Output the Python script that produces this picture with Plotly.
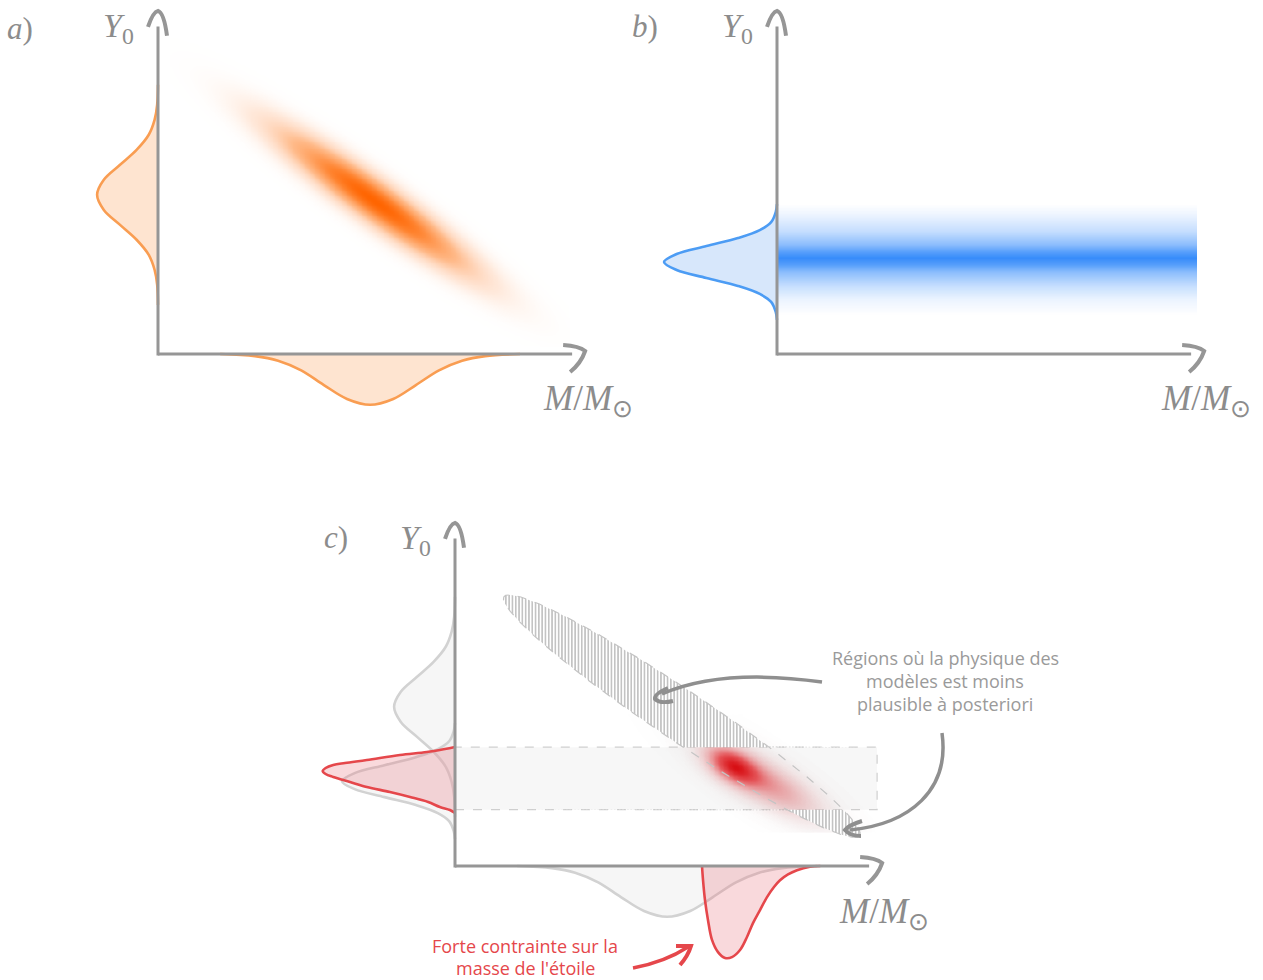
import numpy as np
import plotly.graph_objects as go

W, H = 1263, 980
PX = 42.0  # pixels per data unit (same scale on both axes of every panel)

# ---------------- data (arbitrary units) ----------------
# Panel a : prior of the models  (Y0 marginal, M marginal, joint ellipse)
a_ymarg_y = [6.41, 5.93, 5.58, 5.22, 4.86, 4.50, 4.15, 3.79, 3.43, 3.08, 2.72, 2.36, 2.00, 1.65, 1.17]
a_ymarg_d = [0.00, 0.02, 0.08, 0.22, 0.51, 0.91, 1.29, 1.45, 1.29, 0.91, 0.51, 0.22, 0.08, 0.02, 0.00]
a_xmarg_x = [1.48, 2.31, 2.86, 3.41, 3.95, 4.50, 5.05, 5.60, 6.14, 6.69, 7.24, 7.79, 8.62]
a_xmarg_d = [0.00, 0.05, 0.16, 0.39, 0.74, 1.07, 1.21, 1.07, 0.74, 0.39, 0.16, 0.05, 0.00]
a_joint_center = [5.15, 3.65]
a_joint_sigma = [1.75, 0.30]
a_joint_angle = -35.7

# Panel b : constraint on Y0 only
b_ymarg_y = [3.57, 3.38, 3.14, 2.95, 2.76, 2.57, 2.38, 2.19, 2.00, 1.81, 1.62, 1.43, 1.24, 1.00, 0.81]
b_ymarg_d = [0.00, 0.03, 0.14, 0.41, 0.93, 1.68, 2.39, 2.69, 2.39, 1.68, 0.93, 0.41, 0.14, 0.03, 0.00]
b_band_y = [0.93, 1.29, 1.64, 1.95, 2.12, 2.29, 2.43, 2.60, 2.95, 3.31, 3.57]
b_band_a = [0.00, 0.10, 0.30, 0.60, 0.85, 1.00, 0.85, 0.60, 0.30, 0.10, 0.00]
b_band_x = [0.0, 10.0]

# Panel c : combination
c_gray2_y = [3.40, 3.21, 2.97, 2.78, 2.59, 2.40, 2.21, 2.02, 1.83, 1.64, 1.45, 1.26, 1.07, 0.83, 0.64]
c_gray2_d = [0.00, 0.03, 0.14, 0.41, 0.93, 1.68, 2.39, 2.69, 2.39, 1.68, 0.93, 0.41, 0.14, 0.03, 0.00]
c_red_y = [2.833, 2.786, 2.714, 2.643, 2.524, 2.452, 2.405, 2.333, 2.262, 2.190, 2.119, 2.000,
           1.881, 1.762, 1.643, 1.524, 1.405, 1.333, 1.262]
c_red_d = [0.00, 0.24, 0.67, 1.31, 2.10, 2.62, 2.90, 3.08, 3.15, 3.08, 2.90, 2.50,
           2.10, 1.55, 1.07, 0.64, 0.36, 0.12, 0.00]
c_redx_x = [5.881, 5.905, 5.952, 6.024, 6.119, 6.262, 6.429, 6.595, 6.786, 6.952, 7.095, 7.262,
            7.429, 7.595, 7.738, 7.929, 8.143, 8.452, 8.70]
c_redx_d = [0.00, 0.33, 0.81, 1.29, 1.76, 2.05, 2.19, 2.17, 2.00, 1.69, 1.36, 1.05,
            0.74, 0.50, 0.34, 0.20, 0.10, 0.02, 0.00]
c_ellipse_center = [5.40, 3.57]
c_ellipse_axes = [5.10, 0.60]
c_ellipse_angle = -33.9
c_band_x = [0.0, 10.05]
c_band_y = [1.34, 2.83]
c_post_centers = [[6.62, 2.38], [7.45, 1.97]]
c_post_sigmas = [[0.45, 0.24], [0.85, 0.30]]
c_post_weights = [1.0, 0.5]
c_post_angle = -30.0
c_halo_center = [7.20, 2.10]
c_halo_sigma = [1.40, 0.40]

# ---------------- styles ----------------
AX_COL = "#969696"
TXT_COL = "#8c8c8c"
ORANGE_LINE, ORANGE_FILL = "#f99d52", "rgba(252,196,150,0.45)"
BLUE_LINE, BLUE_FILL = "#4c9cf4", "rgba(160,198,245,0.42)"
GRAY_LINE, GRAY_FILL = "#d2d2d2", "rgba(225,225,225,0.30)"
RED_LINE, RED_FILL = "#e5474b", "rgba(235,120,128,0.28)"

panels = {
    "a": dict(ox=158, oy=354, xr=[-3.7, 10.6], yr=[-1.5, 8.4], xa="x", ya="y"),
    "b": dict(ox=777, oy=354, xr=[-3.7, 10.6], yr=[-1.5, 8.4], xa="x2", ya="y2"),
    "c": dict(ox=455, oy=866, xr=[-3.7, 10.6], yr=[-2.6, 8.3], xa="x3", ya="y3"),
}
X_LINE_END, X_APEX = 9.86, 10.17
Y_LINE_END, Y_APEX = 7.80, 8.17


def to_px(p, x, y):
    return p["ox"] + x * PX, p["oy"] - y * PX


def path(cmds):
    s = []
    for c, pts in cmds:
        s.append(c + " " + " ".join(f"{px / W:.5f},{1 - py / H:.5f}" for px, py in pts))
    return " ".join(s)


def gauss2d(X, Y, cx, cy, s1, s2, ang):
    t = np.deg2rad(ang)
    u = (X - cx) * np.cos(t) + (Y - cy) * np.sin(t)
    v = -(X - cx) * np.sin(t) + (Y - cy) * np.cos(t)
    return np.exp(-0.5 * ((u / s1) ** 2 + (v / s2) ** 2))


fig = go.Figure()


def marg_left(p, yv, dv, line, fill, width=2.6):
    fig.add_trace(go.Scatter(x=[-d for d in dv], y=yv, mode="lines", fill="toself",
                             fillcolor=fill, line=dict(color=line, width=width, shape="spline", smoothing=1.0),
                             xaxis=p["xa"], yaxis=p["ya"], hoverinfo="skip", showlegend=False))


def marg_below(p, xv, dv, line, fill, width=2.6):
    fig.add_trace(go.Scatter(x=xv, y=[-d for d in dv], mode="lines", fill="toself",
                             fillcolor=fill, line=dict(color=line, width=width, shape="spline", smoothing=1.0),
                             xaxis=p["xa"], yaxis=p["ya"], hoverinfo="skip", showlegend=False))


# ---------- panel a ----------
pa = panels["a"]
gx = np.arange(0.3, 9.8, 0.04)
gy = np.arange(0.2, 8.0, 0.04)
GX, GY = np.meshgrid(gx, gy)
za = gauss2d(GX, GY, a_joint_center[0], a_joint_center[1], a_joint_sigma[0], a_joint_sigma[1], a_joint_angle)
fig.add_trace(go.Heatmap(x=gx, y=gy, z=za, zmin=0, zmax=1, zsmooth="best", showscale=False,
                         colorscale=[[0, "rgba(255,160,100,0)"], [0.12, "rgba(255,160,100,0.24)"],
                                     [0.4, "rgba(255,135,50,0.58)"], [0.75, "rgba(255,115,20,0.87)"],
                                     [1, "rgba(255,100,0,1)"]],
                         xaxis="x", yaxis="y", hoverinfo="skip"))
marg_left(pa, a_ymarg_y, a_ymarg_d, ORANGE_LINE, ORANGE_FILL)
marg_below(pa, a_xmarg_x, a_xmarg_d, ORANGE_LINE, ORANGE_FILL)

# ---------- panel b ----------
pb = panels["b"]
bx = np.arange(b_band_x[0] + 0.05, b_band_x[1], 0.1)
zb = np.array([[a] * len(bx) for a in b_band_a])
fig.add_trace(go.Heatmap(x=bx, y=b_band_y, z=zb, zmin=0, zmax=1, zsmooth="best", showscale=False,
                         colorscale=[[0, "rgba(70,150,252,0)"], [1, "rgba(55,140,250,1)"]],
                         xaxis="x2", yaxis="y2", hoverinfo="skip"))
marg_left(pb, b_ymarg_y, b_ymarg_d, BLUE_LINE, BLUE_FILL)

# ---------- panel c ----------
pc = panels["c"]
shapes = []
shapes.append(dict(type="rect", xref="x3", yref="y3", x0=c_band_x[0], x1=c_band_x[1], y0=c_band_y[0],
                   y1=c_band_y[1], fillcolor="#f7f7f7", line=dict(color="#cfcfcf", width=1.2, dash="dash"),
                   layer="below"))

cx_ = np.arange(3.0, 10.0, 0.03)
cy_ = np.arange(0.8, 3.6, 0.03)
CX, CY = np.meshgrid(cx_, cy_)
zh = gauss2d(CX, CY, c_halo_center[0], c_halo_center[1], c_halo_sigma[0], c_halo_sigma[1], c_ellipse_angle)
fig.add_trace(go.Heatmap(x=cx_, y=cy_, z=zh, zmin=0, zmax=1, zsmooth="best", showscale=False,
                         colorscale=[[0, "rgba(205,205,205,0)"], [1, "rgba(205,205,205,0.40)"]],
                         xaxis="x3", yaxis="y3", hoverinfo="skip"))
zr = sum(w * gauss2d(CX, CY, c[0], c[1], s[0], s[1], c_post_angle)
         for w, c, s in zip(c_post_weights, c_post_centers, c_post_sigmas))
zr = zr / zr.max()
fig.add_trace(go.Heatmap(x=cx_, y=cy_, z=zr, zmin=0, zmax=1, zsmooth="best", showscale=False,
                         colorscale=[[0, "rgba(235,100,105,0)"], [0.25, "rgba(235,90,95,0.3)"],
                                     [0.65, "rgba(228,45,50,0.78)"], [1, "rgba(215,15,20,1)"]],
                         xaxis="x3", yaxis="y3", hoverinfo="skip"))

t = np.linspace(0, 2 * np.pi, 721)
th = np.deg2rad(c_ellipse_angle)
ex = c_ellipse_center[0] + c_ellipse_axes[0] * np.cos(t) * np.cos(th) - c_ellipse_axes[1] * np.sin(t) * np.sin(th)
ey = c_ellipse_center[1] + c_ellipse_axes[0] * np.cos(t) * np.sin(th) + c_ellipse_axes[1] * np.sin(t) * np.cos(th)
hatch = dict(shape="|", size=3.3, solidity=0.45, fgcolor="#bdbdbd", bgcolor="white", fillmode="replace")
for yy in (np.maximum(ey, c_band_y[1]), np.minimum(ey, c_band_y[0])):
    fig.add_trace(go.Scatter(x=ex, y=yy, mode="lines", fill="toself", fillcolor="white", fillpattern=hatch,
                             line=dict(width=0, color="rgba(0,0,0,0)"), xaxis="x3", yaxis="y3",
                             hoverinfo="skip", showlegend=False))
fig.add_trace(go.Scatter(x=ex, y=ey, mode="lines", line=dict(color="#c4c4c4", width=1.2, dash="dash"),
                         xaxis="x3", yaxis="y3", hoverinfo="skip", showlegend=False))

marg_left(pc, a_ymarg_y, a_ymarg_d, GRAY_LINE, GRAY_FILL)
marg_left(pc, c_gray2_y, c_gray2_d, GRAY_LINE, GRAY_FILL)
marg_left(pc, c_red_y, c_red_d, RED_LINE, RED_FILL)
marg_below(pc, a_xmarg_x, a_xmarg_d, GRAY_LINE, GRAY_FILL)
marg_below(pc, c_redx_x, c_redx_d, RED_LINE, RED_FILL)

# ---------- axes with curved arrow heads ----------
for key, p in panels.items():
    shapes.append(dict(type="line", xref=p["xa"], yref=p["ya"], x0=0, y0=0, x1=X_LINE_END, y1=0,
                       line=dict(color=AX_COL, width=3), layer="above"))
    shapes.append(dict(type="line", xref=p["xa"], yref=p["ya"], x0=0, y0=-0.035, x1=0, y1=Y_LINE_END,
                       line=dict(color=AX_COL, width=3), layer="above"))
    ax, ay = to_px(p, 0, Y_APEX)
    shapes.append(dict(type="path", xref="paper", yref="paper", layer="above",
                       path=path([("M", [(ax - 10, ay + 16)]), ("Q", [(ax - 5, ay + 1), (ax, ay)]),
                                  ("Q", [(ax + 6, ay + 2), (ax + 9, ay + 25)])]),
                       line=dict(color=AX_COL, width=4)))
    hx, hy = to_px(p, X_APEX, 0)
    hy -= 3
    shapes.append(dict(type="path", xref="paper", yref="paper", layer="above",
                       path=path([("M", [(hx - 22, hy - 6)]), ("Q", [(hx - 6, hy - 5), (hx, hy)]),
                                  ("Q", [(hx - 4, hy + 12), (hx - 15, hy + 21)])]),
                       line=dict(color=AX_COL, width=4)))

# ---------- annotation arrows ----------
ARW = "#8f8f8f"
shapes += [
    dict(type="path", xref="paper", yref="paper", layer="above",
         path=path([("M", [(822, 682)]), ("Q", [(722, 668), (662, 694)])]), line=dict(color=ARW, width=3.5)),
    dict(type="path", xref="paper", yref="paper", layer="above",
         path=path([("M", [(668, 688)]), ("Q", [(654, 694), (655, 699)]), ("Q", [(660, 704), (673, 701)])]),
         line=dict(color=ARW, width=4)),
    dict(type="path", xref="paper", yref="paper", layer="above",
         path=path([("M", [(942, 733)]), ("C", [(950, 790), (910, 824), (850, 830)])]),
         line=dict(color=ARW, width=3.5)),
    dict(type="path", xref="paper", yref="paper", layer="above",
         path=path([("M", [(862, 821)]), ("Q", [(849, 825), (845, 830)]), ("Q", [(850, 836), (861, 836)])]),
         line=dict(color=ARW, width=4)),
    dict(type="path", xref="paper", yref="paper", layer="above",
         path=path([("M", [(633, 968)]), ("Q", [(665, 962), (688, 947)])]), line=dict(color=RED_LINE, width=3.5)),
    dict(type="path", xref="paper", yref="paper", layer="above",
         path=path([("M", [(676, 946)]), ("L", [(691, 946)]), ("Q", [(688, 956), (680, 965)])]),
         line=dict(color=RED_LINE, width=4)),
]

# ---------- text ----------
ann = []


def label(px, py, text, size, color=TXT_COL, family="Liberation Serif"):
    ann.append(dict(x=px / W, y=1 - py / H, xref="paper", yref="paper", text=text, showarrow=False,
                    xanchor="center", yanchor="middle", font=dict(family=family, size=size, color=color)))


for lab, pos in (("a", (20, 28)), ("b", (645, 27)), ("c", (336, 537))):
    label(*pos, f"<i>{lab}</i>)", 31)
for pos in ((118, 28), (737, 28), (415, 540)):
    label(*pos, "<i>Y</i><sub>0</sub>", 34)
for pos in ((588, 400), (1206, 400), (884, 913)):
    label(*pos, "<i>M</i>/<i>M</i><sub>⊙</sub>", 35)

for i, line in enumerate(["Régions où la physique des", "modèles est moins", "plausible à posteriori"]):
    label(945, 658 + 23 * i, line, 18, "#9a9a9a", "Open Sans")
for i, line in enumerate(["Forte contrainte sur la", "masse de l'étoile"]):
    label(525, 946 + 22 * i, line, 18, RED_LINE, "Open Sans")

layout_axes = {}
for i, (key, p) in enumerate(panels.items()):
    sfx = "" if i == 0 else str(i + 1)
    xd = [(p["ox"] + p["xr"][0] * PX) / W, (p["ox"] + p["xr"][1] * PX) / W]
    yd = [1 - (p["oy"] - p["yr"][0] * PX) / H, 1 - (p["oy"] - p["yr"][1] * PX) / H]
    layout_axes["xaxis" + sfx] = dict(domain=xd, range=p["xr"], visible=False, fixedrange=True,
                                      anchor="y" + sfx, showgrid=False, zeroline=False)
    layout_axes["yaxis" + sfx] = dict(domain=yd, range=p["yr"], visible=False, fixedrange=True,
                                      anchor="x" + sfx, showgrid=False, zeroline=False)

fig.update_layout(width=W, height=H, margin=dict(l=0, r=0, t=0, b=0), paper_bgcolor="white",
                  plot_bgcolor="rgba(0,0,0,0)", showlegend=False, shapes=shapes, annotations=ann,
                  **layout_axes)

fig.write_html("out.html", config={"displayModeBar": False},
               post_script="document.body.style.margin='0';document.body.style.overflow='hidden';")
